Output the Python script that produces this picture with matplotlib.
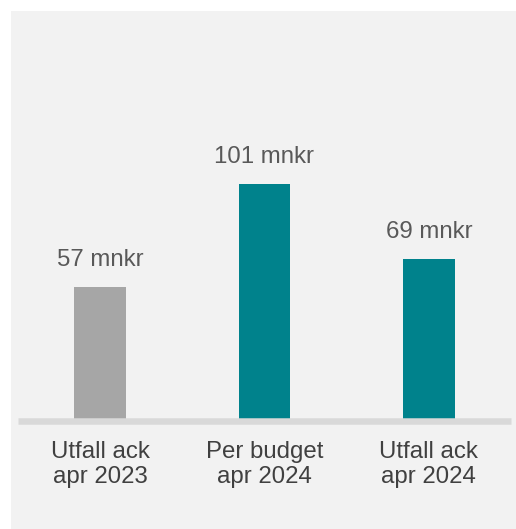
import matplotlib
matplotlib.use("Agg")
import matplotlib.pyplot as plt
from matplotlib.patches import Rectangle

categories = ["Utfall ack\napr 2023", "Per budget\napr 2024", "Utfall ack\napr 2024"]
values = [57, 101, 69]
labels = ["57 mnkr", "101 mnkr", "69 mnkr"]
colors = ["#a6a6a6", "#00828c", "#00828c"]

W, H = 516, 529
fig = plt.figure(figsize=(W / 100, H / 100), dpi=100)
fig.patch.set_facecolor("white")
fig.patches.append(Rectangle((11 / W, 0), (W - 11) / W, (H - 11) / H,
                             transform=fig.transFigure, facecolor="#f2f2f2",
                             edgecolor="none", zorder=-10))

plt.rcParams['font.family'] = ['Liberation Sans', 'DejaVu Sans']

left, right = 18, 511
bottom_px = 420.5  # from top
top_px = 11
ax = fig.add_axes([left / W, (H - bottom_px) / H, (right - left) / W, (bottom_px - top_px) / H])
ax.set_facecolor("none")
ppu = 2.34
ax.set_xlim(-0.5, 2.5)
ax.set_ylim(0, (bottom_px - top_px) / ppu)

x = range(len(values))
bars = ax.bar(x, values, width=52 / 164.5, color=colors, zorder=2)

for xi, v, lab in zip(x, values, labels):
    ax.annotate(lab, (xi, v), xytext=(0, 15.5), textcoords="offset points",
                ha="center", va="baseline", fontsize=17.3, color="#595959")

for s in ["top", "left", "right"]:
    ax.spines[s].set_visible(False)
ax.spines["bottom"].set_color("#d9d9d9")
ax.spines["bottom"].set_linewidth(6.5 * 0.72)
ax.spines["bottom"].set_capstyle("butt")
ax.spines["bottom"].set_zorder(3)
ax.set_yticks([])
ax.set_xticks(list(x))
ax.set_xticklabels(categories, fontsize=17.3, color="#404040", linespacing=1.17)
ax.tick_params(axis="x", length=0, pad=14.5)

fig.savefig("out.png", dpi=100)
